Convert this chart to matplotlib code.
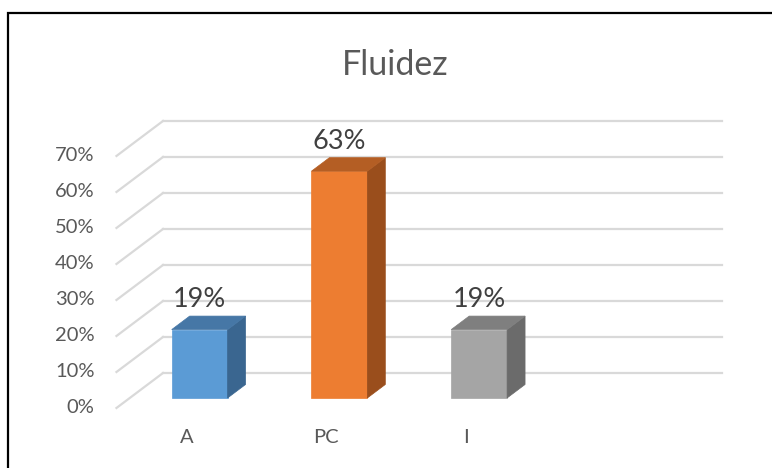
import matplotlib
import numpy as np
from matplotlib.patches import Polygon, Rectangle
from matplotlib.transforms import IdentityTransform

matplotlib.use("Agg")
import matplotlib.pyplot as plt

plt.rcParams["font.family"] = ["Lato", "DejaVu Sans"]

TITLE = "Fluidez"
CATEGORIES = ["A", "PC", "I"]
VALUES = [19, 63, 19]
LABELS = ["19%", "63%", "19%"]
TICKS = [0, 10, 20, 30, 40, 50, 60, 70]

FRONT = ["#5B9BD5", "#ED7D31", "#A5A5A5"]
SIDE = ["#3A6690", "#9A4E1C", "#6B6B6B"]
TOP = ["#4677A6", "#B45E24", "#7F7F7F"]
TEXT = "#595959"
GRID = "#D9D9D9"

N_SLOTS = 4
BAR_W = 0.40
# depth direction in pixels (per unit depth)
DEPTH_VEC = np.array([1.33, 1.0])
D_FRONT, D_BAR, D_BACK = -10.0, 13.5, 25.0

fig = plt.figure(figsize=(7.72, 4.68), dpi=100)
ax = fig.add_axes([0.1681, 0.1496, 0.7241, 0.5385])
ax.set_xlim(-0.5, N_SLOTS - 0.5)
ax.set_ylim(0, 70)
ax.axis("off")

ident = IdentityTransform()


def px(x, y, d=0.0):
    p = ax.transData.transform((x, y))
    return p + d * DEPTH_VEC


def poly(points, **kw):
    ax.add_patch(Polygon([px(*p) for p in points], closed=True,
                         transform=ident, clip_on=False, **kw))


# walls: gridlines on back wall and floor/side diagonals
for v in TICKS:
    a = px(-0.5, v, D_BACK)
    b = px(N_SLOTS - 0.5, v, D_BACK)
    ax.plot([a[0], b[0]], [a[1], b[1]], color=GRID, lw=1.6,
            transform=ident, clip_on=False, zorder=1)
    f = px(-0.5, v, D_FRONT)
    ax.plot([f[0], a[0]], [f[1], a[1]], color=GRID, lw=1.6,
            transform=ident, clip_on=False, zorder=1)
    ax.text(f[0] - 22, f[1], f"{v}%", transform=ident, ha="right",
            va="center", fontsize=14.5, color=TEXT)

# bars
for i, v in enumerate(VALUES):
    l, r = i - BAR_W / 2, i + BAR_W / 2
    poly([(l, 0), (r, 0), (r, v), (l, v)], facecolor=FRONT[i],
         edgecolor=FRONT[i], lw=0.5, zorder=3)
    poly([(r, 0, 0), (r, 0, D_BAR), (r, v, D_BAR), (r, v, 0)],
         facecolor=SIDE[i], edgecolor=SIDE[i], lw=0.5, zorder=3)
    poly([(l, v, 0), (r, v, 0), (r, v, D_BAR), (l, v, D_BAR)],
         facecolor=TOP[i], edgecolor=TOP[i], lw=0.5, zorder=3)
    ax.annotate(LABELS[i], (i, v), xytext=(0, 21.6),
                textcoords="offset points", ha="center", va="center",
                fontsize=19.5, color="#404040", zorder=4)

# category labels
for i, c in enumerate(CATEGORIES):
    p = px(i, 0, D_FRONT)
    ax.text(p[0], p[1] - 30, c, transform=ident, ha="center",
            va="center", fontsize=14.5, color=TEXT)

fig.text(0.5115, 1 - 65 / 468, TITLE, ha="center", va="center",
         fontsize=24.5, color=TEXT)

# chart border
fig.add_artist(Rectangle((8 / 772, -0.1), 1.2, 1 - 13 / 468 + 0.1,
                         transform=fig.transFigure, fill=False,
                         edgecolor="black", lw=1.6))

fig.savefig("out.png", dpi=100)
